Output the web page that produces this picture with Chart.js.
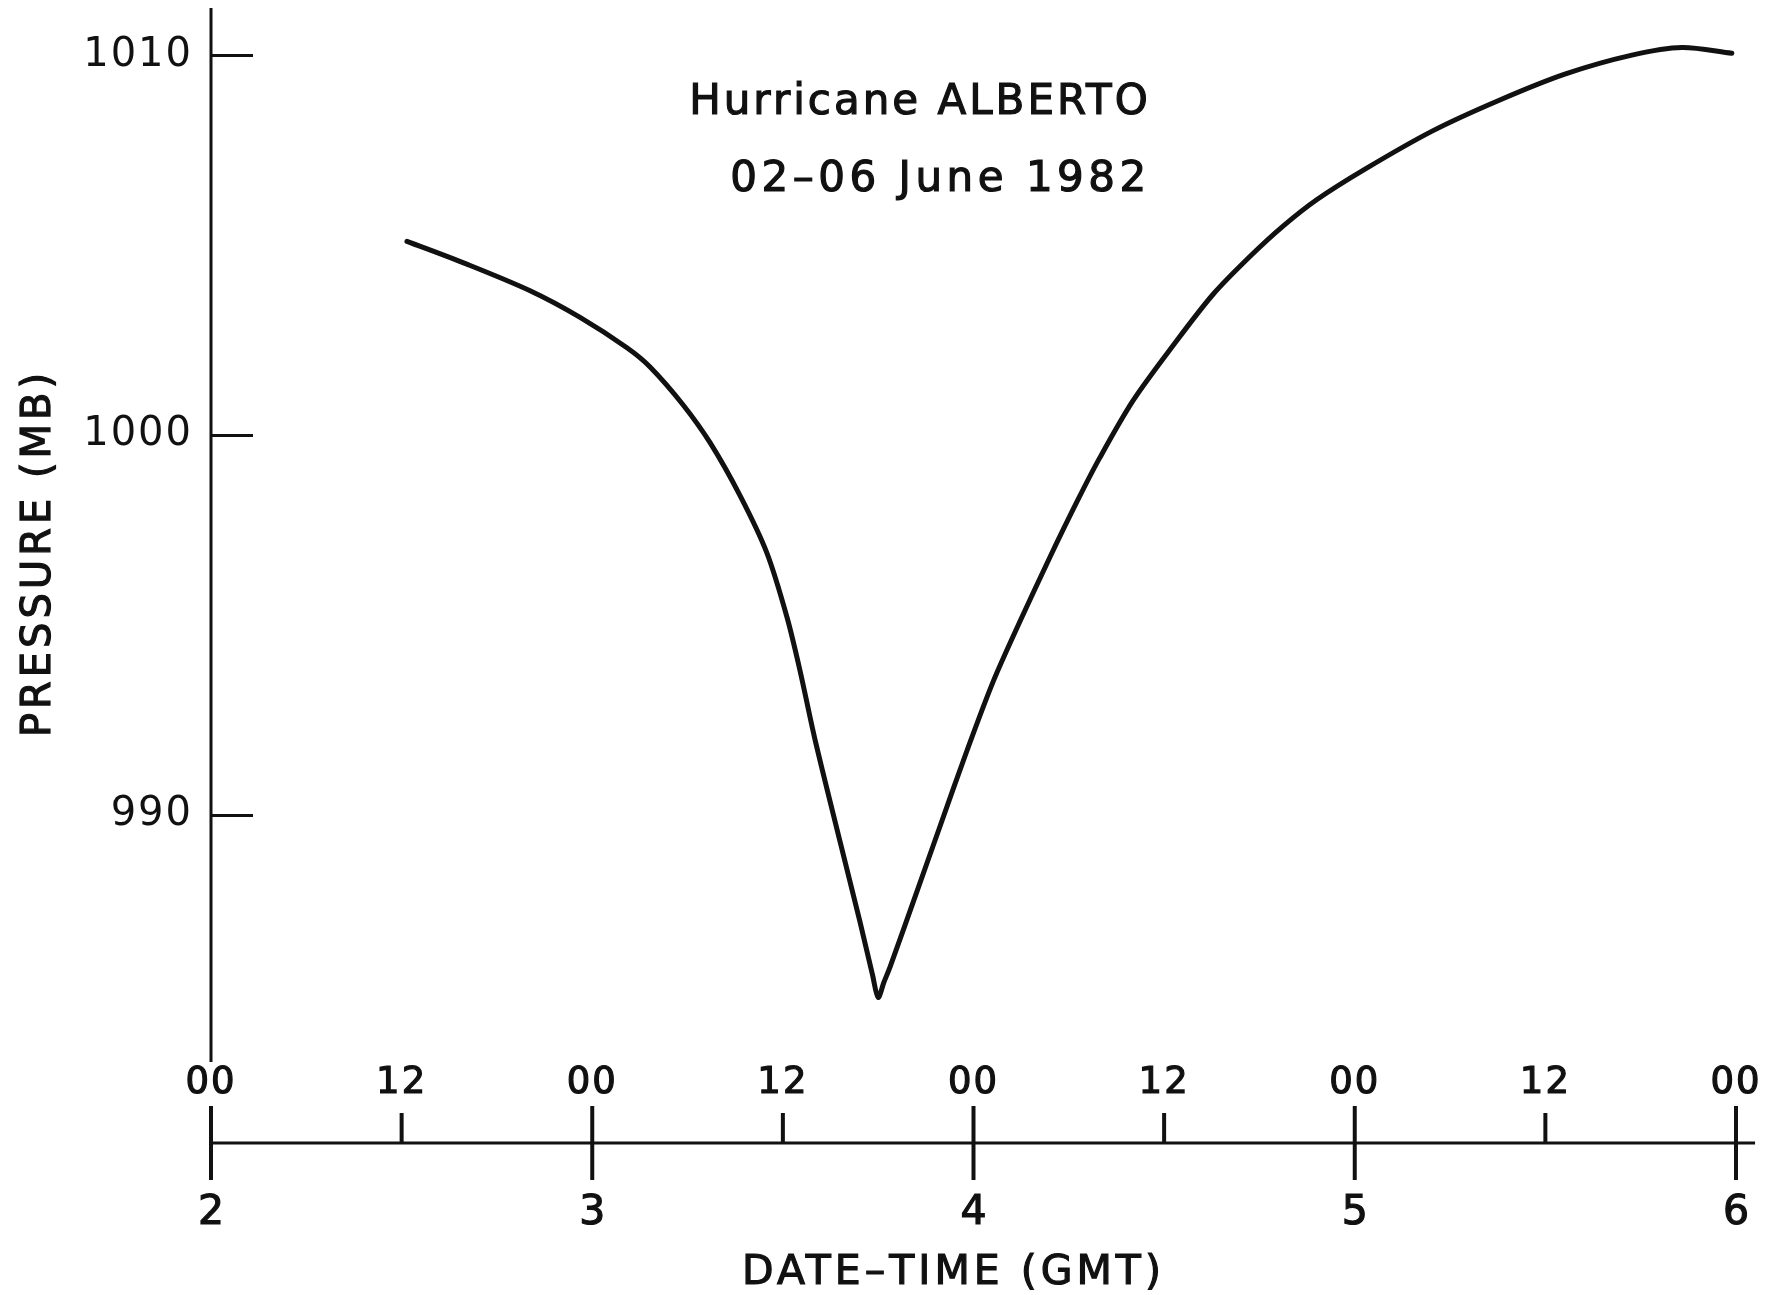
<!DOCTYPE html>
<html>
<head>
<meta charset="utf-8">
<script src="https://cdn.jsdelivr.net/npm/chart.js@4.4.1/dist/chart.umd.min.js"></script>
<style>
  html, body { margin: 0; padding: 0; background: #fff; }
</style>
</head>
<body>
<canvas id="pressure-chart" width="1765" height="1295"></canvas>
<script>
// Hurricane ALBERTO central pressure, 02-06 June 1982
// time is in days of June (2.5 = 2 June 12 GMT)
const times = [2.514, 2.671, 2.837, 2.968, 3.091, 3.151, 3.238, 3.309, 3.388, 3.458,
               3.511, 3.545, 3.584, 3.650, 3.702, 3.735, 3.750, 3.765, 3.781, 3.852,
               3.912, 3.983, 4.051, 4.122, 4.201, 4.274, 4.331, 4.418, 4.523, 4.628,
               4.725, 4.812, 4.901, 5.027, 5.203, 5.376, 5.551, 5.727, 5.858, 5.989];
const pressures = [1005.1, 1004.5, 1003.8, 1003.1, 1002.3, 1001.8, 1000.8, 999.8, 998.4, 996.9,
                   995.2, 993.8, 992.0, 989.3, 987.2, 985.8, 985.2, 985.6, 986.0, 988.0,
                   989.7, 991.7, 993.5, 995.1, 996.8, 998.3, 999.4, 1000.9, 1002.35, 1003.7,
                   1004.7, 1005.5, 1006.2, 1007.0, 1008.0, 1008.8, 1009.5, 1010.0, 1010.2, 1010.05];

const yTickValues = [990, 1000, 1010];
const hourTicks = [2, 2.5, 3, 3.5, 4, 4.5, 5, 5.5, 6];
const hourLabels = ['00', '12', '00', '12', '00', '12', '00', '12', '00'];
const dayTicks = [2, 3, 4, 5, 6];
const dayLabels = ['2', '3', '4', '5', '6'];
const titleLines = ['Hurricane ALBERTO', '02\u201306 June 1982'];
const yTitle = 'PRESSURE (MB)';
const xTitle = 'DATE\u2013TIME (GMT)';

const yMin = 981.37, yMax = 1011.24;  // axis range
const yAxisEnd = 983.5;               // pressure axis line stops above the time axis
const xAxisEnd = 6.05;

const FONT = '"DejaVu Sans", sans-serif';
const INK = '#111';

function text(ctx, str, x, y, size, spacing, align) {
    ctx.font = size + 'px ' + FONT;
    ctx.letterSpacing = spacing + 'px';
    ctx.textAlign = align || 'center';
    ctx.textBaseline = 'middle';
    ctx.lineWidth = 1.2;
    ctx.fillText(str, x, y);
    ctx.strokeText(str, x, y);
}

// draws the y axis line, the split date-time axis and the free text
const axisPlugin = {
    id: 'dateAxis',
    beforeDraw(chart) {
        chart.ctx.letterSpacing = '2px';
    },
    afterDraw(chart) {
        const { ctx, chartArea, scales: { x, y } } = chart;
        ctx.save();
        ctx.strokeStyle = INK;
        ctx.fillStyle = INK;
        ctx.lineWidth = 3;

        // pressure axis line
        ctx.beginPath();
        ctx.moveTo(chartArea.left, chartArea.top);
        ctx.lineTo(chartArea.left, y.getPixelForValue(yAxisEnd));
        ctx.stroke();

        // time axis line
        const base = chartArea.bottom;
        ctx.beginPath();
        ctx.moveTo(x.getPixelForValue(hourTicks[0]), base);
        ctx.lineTo(x.getPixelForValue(xAxisEnd), base);
        ctx.stroke();

        hourTicks.forEach((t, i) => {
            const px = x.getPixelForValue(t);
            const major = dayTicks.includes(t);
            ctx.lineWidth = 4;
            ctx.beginPath();
            ctx.moveTo(px, base - (major ? 37 : 30));
            ctx.lineTo(px, major ? base + 37 : base);
            ctx.stroke();
            text(ctx, hourLabels[i], px, base - 60, 37, 2);
        });
        dayTicks.forEach((t, i) => {
            text(ctx, dayLabels[i], x.getPixelForValue(t), base + 70, 41, 0);
        });
        text(ctx, xTitle, (x.getPixelForValue(2) + x.getPixelForValue(6)) / 2 - 20, base + 130, 41, 4);

        // rotated pressure title
        ctx.save();
        ctx.translate(40, 553);
        ctx.rotate(-Math.PI / 2);
        text(ctx, yTitle, 0, 0, 40, 4);
        ctx.restore();

        // storm name and dates
        text(ctx, titleLines[0], x.getPixelForValue(4.465), y.getPixelForValue(1008.74), 42, 3, 'right');
        text(ctx, titleLines[1], x.getPixelForValue(4.465), y.getPixelForValue(1006.71), 42, 4.5, 'right');
        ctx.restore();
    }
};

const ctx = document.getElementById('pressure-chart').getContext('2d');
const pressureChart = new Chart(ctx, {
    type: 'line',
    data: {
        datasets: [{
            label: 'Pressure (mb)',
            data: times.map((t, i) => ({ x: t, y: pressures[i] })),
            borderColor: INK,
            borderWidth: 5,
            pointRadius: 0,
            tension: 0.3,
            borderCapStyle: 'round',
            borderJoinStyle: 'round',
            fill: false
        }]
    },
    options: {
        responsive: false,
        animation: false,
        devicePixelRatio: 1,
        layout: { padding: { top: 8, right: 29, bottom: 152, left: 0 } },
        plugins: {
            legend: { display: false },
            tooltip: { enabled: false }
        },
        scales: {
            x: {
                type: 'linear',
                min: 2,
                max: 6,
                display: false
            },
            y: {
                min: yMin,
                max: yMax,
                border: { display: false },
                grid: {
                    drawOnChartArea: false,
                    drawTicks: true,
                    tickLength: -42,   // ticks point into the plot
                    tickWidth: 3,
                    tickColor: INK
                },
                ticks: {
                    color: INK,
                    padding: 60,
                    font: { family: FONT, size: 40 },
                    callback: (v) => String(v)
                },
                afterBuildTicks: (scale) => {
                    scale.ticks = yTickValues.map(v => ({ value: v }));
                },
                afterFit: (scale) => {
                    scale.width = 211;
                    scale.paddingTop = 0;
                    scale.paddingBottom = 0;
                }
            }
        }
    },
    plugins: [axisPlugin]
});
</script>
</body>
</html>
